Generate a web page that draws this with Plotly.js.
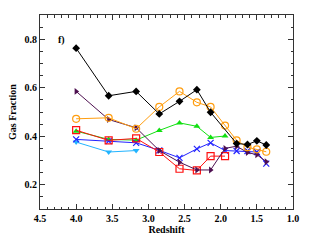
<!DOCTYPE html>
<html><head><meta charset="utf-8">
<script src="https://cdn.plot.ly/plotly-3.0.1.min.js"></script>
<style>html,body{margin:0;padding:0;background:#fff}</style>
</head><body><div id="chart" style="width:315px;height:240px"></div>
<script>
const zAll = [4.0, 3.55, 3.17, 2.85, 2.57, 2.33, 2.14, 1.94, 1.78, 1.63, 1.5, 1.37];
const zBlack = [4.0, 3.55, 3.17, 2.85, 2.57, 2.33, 2.14, 1.78, 1.63, 1.5, 1.37];
const blackVals = [0.763, 0.567, 0.585, 0.492, 0.544, 0.592, 0.499, 0.370, 0.366, 0.381, 0.364];
const orangeVals = [0.472, 0.476, 0.431, 0.521, 0.585, 0.540, 0.521, 0.444, 0.383, 0.355, 0.346, 0.336];
const purpleVals = [0.585, 0.469, 0.435, 0.341, 0.293, 0.261, 0.261, 0.350, 0.359, 0.333, 0.324, 0.295];
const zShort = [4.0, 3.55, 3.17, 2.85, 2.57, 2.33, 2.14, 1.94];
const greenVals = [0.421, 0.387, 0.384, 0.424, 0.455, 0.441, 0.395, 0.401];
const redVals = [0.425, 0.383, 0.391, 0.335, 0.266, 0.259, 0.318, 0.318];
const blueVals = [0.387, 0.380, 0.373, 0.342, 0.311, 0.348, 0.373, 0.341, 0.339, 0.339, 0.335, 0.287];
const zCyan = [4.0, 3.55, 3.17];
const cyanVals = [0.376, 0.335, 0.341];
const xTicks = [4.5, 4.0, 3.5, 3.0, 2.5, 2.0, 1.5, 1.0];
const yTicks = [0.2, 0.4, 0.6, 0.8];

function tr(x, y, color, symbol, size, lw) {
  return {x: x, y: y, type: 'scatter', mode: 'lines+markers',
    line: {color: color, width: 1},
    marker: {color: color, symbol: symbol, size: size, line: {color: color, width: lw}}};
}
const data = [
  tr(zCyan, cyanVals, '#22B4FF', 'triangle-down', 6, 0),
  tr(zShort, greenVals, '#11E011', 'triangle-up', 6, 0),
  tr(zAll, blueVals, '#2222FF', 'x-thin-open', 6, 1.2),
  tr(zShort, redVals, '#FF1010', 'square-open', 7, 1.2),
  tr(zAll, purpleVals, '#4E1050', 'triangle-right', 6, 0),
  tr(zAll, orangeVals, '#FF9E10', 'circle-open', 7, 1.2),
  tr(zBlack, blackVals, '#000000', 'diamond', 6, 0)
];
const tickFont = {family: 'Liberation Serif, Times New Roman, serif', size: 10, color: '#000', weight: 'bold'};
const layout = {
  width: 315, height: 240,
  margin: {l: 40, r: 22, t: 15, b: 31},
  paper_bgcolor: '#fff', plot_bgcolor: '#fff',
  showlegend: false,
  xaxis: {range: [4.5, 1.0], tickvals: xTicks, ticktext: xTicks.map(v => v.toFixed(1)),
    ticks: 'inside', ticklen: 5, tickcolor: '#333', showline: true, linecolor: '#333', linewidth: 1,
    mirror: 'ticks', showgrid: false, zeroline: false, tickfont: tickFont,
    minor: {dtick: 0.1, tick0: 0, ticks: 'inside', ticklen: 2.5, tickcolor: '#333', showgrid: false},
    title: {text: 'Redshift', font: tickFont, standoff: 2}},
  yaxis: {range: [0.1, 0.9], tickvals: yTicks, ticktext: yTicks.map(v => v.toFixed(1)),
    ticks: 'inside', ticklen: 5, tickcolor: '#333', showline: true, linecolor: '#333', linewidth: 1,
    mirror: 'ticks', showgrid: false, zeroline: false, tickfont: tickFont,
    minor: {dtick: 0.05, tick0: 0, ticks: 'inside', ticklen: 2.5, tickcolor: '#333', showgrid: false},
    title: {text: 'Gas Fraction', font: tickFont, standoff: 6}},
  annotations: [{text: 'f)', xref: 'paper', yref: 'paper', x: 0.065, y: 0.87, showarrow: false,
    xanchor: 'left', yanchor: 'middle', font: tickFont}]
};
Plotly.newPlot('chart', data, layout, {displayModeBar: false, staticPlot: true});
</script></body></html>
